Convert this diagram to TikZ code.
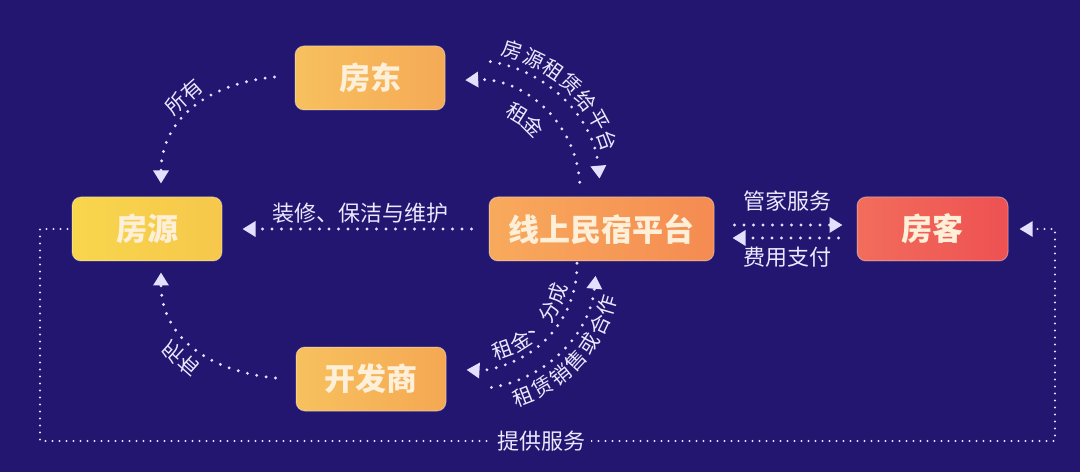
\documentclass[tikz,border=0pt]{standalone}
\usepackage{fontspec}
\newfontfamily\cjk{Noto Sans CJK SC}
\usetikzlibrary{arrows.meta,calc}
\definecolor{bg}{HTML}{231670}
\definecolor{dotc}{HTML}{E4DEFF}
\definecolor{lblc}{HTML}{ECE8FF}
\definecolor{boxtxt}{HTML}{FDEFD8}
\tikzset{
  box/.style={rounded corners=9pt, minimum height=64pt, inner sep=0pt, text=boxtxt,
    font=\cjk\bfseries\fontsize{31}{32}\selectfont, draw=white, draw opacity=0.35, line width=1pt},
  flow/.style={draw=dotc, color=dotc, line width=3.2pt, line cap=round, dash pattern=on 0pt off 9.5pt,
    -{Triangle[length=13pt,width=15pt]}},
  svc/.style={draw=dotc, color=dotc, line width=2.4pt, line cap=round, dash pattern=on 0pt off 7pt,
    -{Triangle[length=13pt,width=15pt]}},
  lbl/.style={text=lblc, font=\cjk\fontsize{22}{23}\selectfont, inner sep=0pt},
  arclbl/.style={text=lblc, font=\cjk\fontsize{20.5}{21}\selectfont, inner sep=0pt},
}
\begin{document}
\begin{tikzpicture}[x=1pt,y=1pt]
\fill[bg] (0,0) rectangle (1080,472);
\useasboundingbox (0,0) rectangle (1080,472);

% boxes
\node[box, minimum width=150pt, left color={rgb,255:red,247;green,192;blue,94}, right color={rgb,255:red,245;green,170;blue,86}] (fd) at (370,394) {房东};
\node[box, minimum width=150pt, left color={rgb,255:red,248;green,214;blue,76}, right color={rgb,255:red,246;green,199;blue,75}] (fy) at (147,243) {房源};
\node[box, minimum width=225pt, left color={rgb,255:red,248;green,170;blue,92}, right color={rgb,255:red,245;green,139;blue,82}] (pf) at (601.5,243) {线上民宿平台};
\node[box, minimum width=151pt, left color={rgb,255:red,242;green,109;blue,92}, right color={rgb,255:red,238;green,81;blue,82}] (fk) at (932.5,243) {房客};
\node[box, minimum width=150pt, left color={rgb,255:red,247;green,193;blue,94}, right color={rgb,255:red,245;green,168;blue,83}] (kf) at (371,93) {开发商};

% 所有 (top)
\draw[flow] ($(fd.west)+(-20,1)$) .. controls +(-70,-7) and +(0,62) .. ($(fy.north)+(14,13)$);
\node[arclbl, rotate=42] (l1) at (184,375) {所有};
% 所有 (bottom)
\draw[flow] ($(kf.west)+(-20,1)$) .. controls +(-70,7) and +(0,-62) .. ($(fy.south)+(14,-11)$);
\node[arclbl, rotate=-42, yscale=-1] (l2) at (181,113) {所有};

% 装修
\draw[flow, shorten <=17pt, shorten >=20pt] (pf.west) -- (fy.east);
\node[lbl] (l3) at (360,259) {装修、保洁与维护};

% 管家服务 / 费用支付
\draw[flow, shorten <=20pt, shorten >=14pt] ([yshift=4pt]pf.east) -- ([yshift=4pt]fk.west);
\draw[flow, shorten <=18pt, shorten >=18pt] ([yshift=-9pt]fk.west) -- ([yshift=-9pt]pf.east);
\node[lbl] (l4) at (787,271) {管家服务};
\node[lbl] (l5) at (787,215) {费用支付};

% 提供服务
\coordinate (s1) at (40,243);
\coordinate (s2) at (40,31);
\coordinate (s3) at (1055,31);
\coordinate (s4) at (1055,243);
\draw[svc, shorten <=4pt, shorten >=11pt] (fy.west) -- (s1) -- (s2) -- (s3) -- (s4) -- (fk.east);
\node[lbl, fill=bg, inner xsep=6pt, inner ysep=3pt] (l6) at (541,31) {提供服务};

% arcs
\coordinate (ctop) at (470,282);
\coordinate (cbot) at (472,207);
\draw[flow] ($(ctop)+(81:130)$) arc[start angle=81,end angle=5,radius=130];
\draw[flow] ($(ctop)+(4:110)$) arc[start angle=4,end angle=92.5,radius=110];
\draw[flow] ($(cbot)+(1:105)$) arc[start angle=1,end angle=-93,radius=105];
\draw[flow] ($(cbot)+(-81:124)$) arc[start angle=-81,end angle=-5,radius=124];

\foreach \c [count=\i from 0] in {房,源,租,赁,给,平,台} {
  \pgfmathsetmacro\ang{73-\i*8.9}
  \node[arclbl, rotate=\ang-90] at ($(ctop)+(\ang:146)$) {\c};
}
\foreach \c [count=\i from 0] in {租,金} {
  \pgfmathsetmacro\ang{58-\i*13}
  \node[arclbl, rotate=\ang-90] at ($(ctop)+(\ang:90)$) {\c};
}
\foreach \c [count=\i from 0] in {租,金,、,分,成} {
  \pgfmathsetmacro\ang{-70.4+\i*13.05}
  \node[arclbl, rotate=\ang+90] at ($(cbot)+(\ang:90)$) {\c};
}
\foreach \c [count=\i from 0] in {租,赁,销,售,或,合,作} {
  \pgfmathsetmacro\ang{-68.7+\i*8.7}
  \node[arclbl, rotate=\ang+90] at ($(cbot)+(\ang:141)$) {\c};
}
\end{tikzpicture}
\end{document}
